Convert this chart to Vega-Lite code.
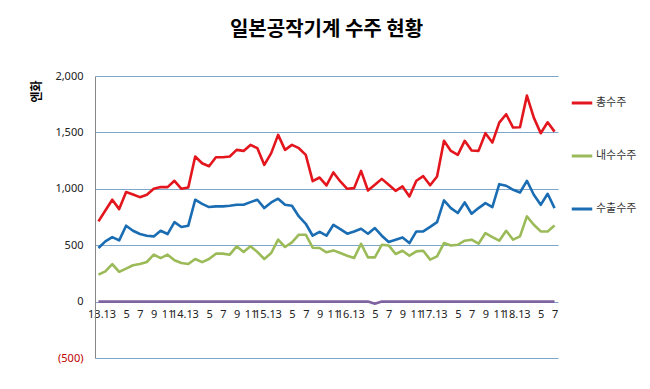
{
  "$schema": "https://vega.github.io/schema/vega-lite/v6.json",
  "autosize": {"type": "none"},
  "padding": {"left": 95, "top": 76, "right": 92, "bottom": 31},
  "width": 463,
  "height": 282,
  "background": "white",
  "title": {
    "text": "일본공작기계 수주 현황",
    "font": "Noto Sans CJK KR",
    "fontSize": 20,
    "fontWeight": "bold",
    "color": "#000000",
    "anchor": "middle",
    "offset": 30
  },
  "config": {
    "view": {"stroke": null},
    "font": "Noto Sans CJK KR"
  },
  "data": {
    "values": [
      {"m": "2013-01", "총수주": 711, "내수수주": 239, "수출수주": 475, "기타": 0},
      {"m": "2013-02", "총수주": 808, "내수수주": 268, "수출수주": 534, "기타": 0},
      {"m": "2013-03", "총수주": 903, "내수수주": 333, "수출수주": 572, "기타": 0},
      {"m": "2013-04", "총수주": 820, "내수수주": 263, "수출수주": 543, "기타": 0},
      {"m": "2013-05", "총수주": 971, "내수수주": 292, "수출수주": 673, "기타": 0},
      {"m": "2013-06", "총수주": 950, "내수수주": 322, "수출수주": 628, "기타": 0},
      {"m": "2013-07", "총수주": 926, "내수수주": 333, "수출수주": 599, "기타": 0},
      {"m": "2013-08", "총수주": 947, "내수수주": 351, "수출수주": 584, "기타": 0},
      {"m": "2013-09", "총수주": 1000, "내수수주": 416, "수출수주": 578, "기타": 0},
      {"m": "2013-10", "총수주": 1015, "내수수주": 386, "수출수주": 628, "기타": 0},
      {"m": "2013-11", "총수주": 1015, "내수수주": 416, "수출수주": 599, "기타": 0},
      {"m": "2013-12", "총수주": 1071, "내수수주": 366, "수출수주": 705, "기타": 0},
      {"m": "2014-01", "총수주": 1000, "내수수주": 342, "수출수주": 661, "기타": 0},
      {"m": "2014-02", "총수주": 1012, "내수수주": 333, "수출수주": 673, "기타": 0},
      {"m": "2014-03", "총수주": 1286, "내수수주": 378, "수출수주": 903, "기타": 0},
      {"m": "2014-04", "총수주": 1227, "내수수주": 350, "수출수주": 867, "기타": 0},
      {"m": "2014-05", "총수주": 1200, "내수수주": 378, "수출수주": 838, "기타": 0},
      {"m": "2014-06", "총수주": 1280, "내수수주": 425, "수출수주": 844, "기타": 0},
      {"m": "2014-07", "총수주": 1280, "내수수주": 425, "수출수주": 844, "기타": 0},
      {"m": "2014-08", "총수주": 1286, "내수수주": 416, "수출수주": 850, "기타": 0},
      {"m": "2014-09", "총수주": 1345, "내수수주": 490, "수출수주": 858, "기타": 0},
      {"m": "2014-10", "총수주": 1336, "내수수주": 440, "수출수주": 858, "기타": 0},
      {"m": "2014-11", "총수주": 1389, "내수수주": 490, "수출수주": 882, "기타": 0},
      {"m": "2014-12", "총수주": 1360, "내수수주": 440, "수출수주": 903, "기타": 0},
      {"m": "2015-01", "총수주": 1212, "내수수주": 378, "수출수주": 829, "기타": 0},
      {"m": "2015-02", "총수주": 1316, "내수수주": 431, "수출수주": 879, "기타": 0},
      {"m": "2015-03", "총수주": 1478, "내수수주": 549, "수출수주": 912, "기타": 0},
      {"m": "2015-04", "총수주": 1345, "내수수주": 484, "수출수주": 858, "기타": 0},
      {"m": "2015-05", "총수주": 1389, "내수수주": 525, "수출수주": 850, "기타": 0},
      {"m": "2015-06", "총수주": 1360, "내수수주": 593, "수출수주": 755, "기타": 0},
      {"m": "2015-07", "총수주": 1301, "내수수주": 593, "수출수주": 690, "기타": 0},
      {"m": "2015-08", "총수주": 1068, "내수수주": 478, "수출수주": 584, "기타": 0},
      {"m": "2015-09", "총수주": 1100, "내수수주": 475, "수출수주": 618, "기타": 0},
      {"m": "2015-10", "총수주": 1030, "내수수주": 437, "수출수주": 584, "기타": 0},
      {"m": "2015-11", "총수주": 1145, "내수수주": 454, "수출수주": 681, "기타": 0},
      {"m": "2015-12", "총수주": 1065, "내수수주": 431, "수출수주": 643, "기타": 0},
      {"m": "2016-01", "총수주": 1000, "내수수주": 407, "수출수주": 602, "기타": 0},
      {"m": "2016-02", "총수주": 1006, "내수수주": 386, "수출수주": 622, "기타": 0},
      {"m": "2016-03", "총수주": 1159, "내수수주": 513, "수출수주": 646, "기타": 0},
      {"m": "2016-04", "총수주": 985, "내수수주": 392, "수출수주": 602, "기타": 0},
      {"m": "2016-05", "총수주": 1035, "내수수주": 392, "수출수주": 652, "기타": -18},
      {"m": "2016-06", "총수주": 1088, "내수수주": 504, "수출수주": 584, "기타": 0},
      {"m": "2016-07", "총수주": 1035, "내수수주": 498, "수출수주": 528, "기타": 0},
      {"m": "2016-08", "총수주": 982, "내수수주": 422, "수출수주": 549, "기타": 0},
      {"m": "2016-09", "총수주": 1021, "내수수주": 451, "수출수주": 569, "기타": 0},
      {"m": "2016-10", "총수주": 932, "내수수주": 407, "수출수주": 519, "기타": 0},
      {"m": "2016-11", "총수주": 1071, "내수수주": 445, "수출수주": 622, "기타": 0},
      {"m": "2016-12", "총수주": 1112, "내수수주": 451, "수출수주": 622, "기타": 0},
      {"m": "2017-01", "총수주": 1031, "내수수주": 372, "수출수주": 662, "기타": 0},
      {"m": "2017-02", "총수주": 1109, "내수수주": 401, "수출수주": 705, "기타": 0},
      {"m": "2017-03", "총수주": 1425, "내수수주": 519, "수출수주": 897, "기타": 0},
      {"m": "2017-04", "총수주": 1336, "내수수주": 498, "수출수주": 829, "기타": 0},
      {"m": "2017-05", "총수주": 1301, "내수수주": 504, "수출수주": 785, "기타": 0},
      {"m": "2017-06", "총수주": 1425, "내수수주": 540, "수출수주": 879, "기타": 0},
      {"m": "2017-07", "총수주": 1339, "내수수주": 549, "수출수주": 779, "기타": 0},
      {"m": "2017-08", "총수주": 1336, "내수수주": 513, "수출수주": 829, "기타": 0},
      {"m": "2017-09", "총수주": 1493, "내수수주": 608, "수출수주": 873, "기타": 0},
      {"m": "2017-10", "총수주": 1410, "내수수주": 572, "수출수주": 838, "기타": 0},
      {"m": "2017-11", "총수주": 1587, "내수수주": 540, "수출수주": 1041, "기타": 0},
      {"m": "2017-12", "총수주": 1661, "내수수주": 628, "수출수주": 1027, "기타": 0},
      {"m": "2018-01", "총수주": 1543, "내수수주": 549, "수출수주": 991, "기타": 0},
      {"m": "2018-02", "총수주": 1546, "내수수주": 578, "수출수주": 967, "기타": 0},
      {"m": "2018-03", "총수주": 1826, "내수수주": 755, "수출수주": 1071, "기타": 0},
      {"m": "2018-04", "총수주": 1631, "내수수주": 681, "수출수주": 947, "기타": 0},
      {"m": "2018-05", "총수주": 1493, "내수수주": 622, "수출수주": 858, "기타": 0},
      {"m": "2018-06", "총수주": 1590, "내수수주": 622, "수출수주": 956, "기타": 0},
      {"m": "2018-07", "총수주": 1507, "내수수주": 675, "수출수주": 829, "기타": 0}
    ]
  },
  "transform": [
    {"fold": ["총수주", "내수수주", "수출수주", "기타"], "as": ["series", "value"]}
  ],
  "mark": {"type": "line", "strokeWidth": 2.6, "strokeJoin": "round"},
  "encoding": {
    "x": {
      "field": "m",
      "type": "ordinal",
      "scale": {"type": "point", "padding": 0.5},
      "axis": {
        "title": null,
        "offset": -56,
        "domain": false,
        "ticks": false,
        "grid": false,
        "labelAngle": 0,
        "labelOverlap": false,
        "labelBound": false,
        "labelFlush": false,
        "labelPadding": 6,
        "labelFontSize": 11,
        "labelColor": "#222222",
        "labelFont": "Noto Sans",
        "labelExpr": "parseInt(substring(datum.value,5,7)) % 2 == 0 ? '' : (parseInt(substring(datum.value,5,7)) == 1 ? substring(datum.value,2,4) + '.1' : '' + parseInt(substring(datum.value,5,7)))"
      }
    },
    "y": {
      "field": "value",
      "type": "quantitative",
      "scale": {"domain": [-500, 2000], "nice": false, "zero": false},
      "axis": {
        "values": [-500, 0, 500, 1000, 1500, 2000],
        "title": "엔화",
        "titleFont": "Noto Sans CJK KR",
        "titleFontSize": 12,
        "titleFontWeight": "bold",
        "titleColor": "#000000",
        "titleAngle": -90,
        "titleX": -59,
        "titleY": 15,
        "titleAlign": "center",
        "titleBaseline": "middle",
        "labelExpr": "datum.value < 0 ? '(' + format(-datum.value, ',') + ')' : format(datum.value, ',')",
        "labelColor": {"condition": {"test": "datum.value < 0", "value": "#c00000"}, "value": "#222222"},
        "labelFont": "Noto Sans",
        "labelFontSize": 11,
        "labelPadding": 12,
        "ticks": false,
        "domain": true,
        "domainColor": "#868686",
        "domainWidth": 1,
        "grid": true,
        "gridColor": "#7ea6c8",
        "gridWidth": 1
      }
    },
    "color": {
      "field": "series",
      "type": "nominal",
      "scale": {
        "domain": ["총수주", "내수수주", "수출수주", "기타"],
        "range": ["#e3161e", "#9bbb59", "#1a6db3", "#7f63a1"]
      },
      "legend": {
        "title": null,
        "values": ["총수주", "내수수주", "수출수주"],
        "orient": "none",
        "legendX": 475,
        "legendY": 15,
        "symbolType": "stroke",
        "symbolSize": 420,
        "symbolStrokeWidth": 3,
        "labelFont": "Noto Sans CJK KR",
        "labelFontSize": 11,
        "labelColor": "#333333",
        "labelOffset": 2,
        "rowPadding": 35
      }
    },
    "order": {"field": "m"}
  }
}
